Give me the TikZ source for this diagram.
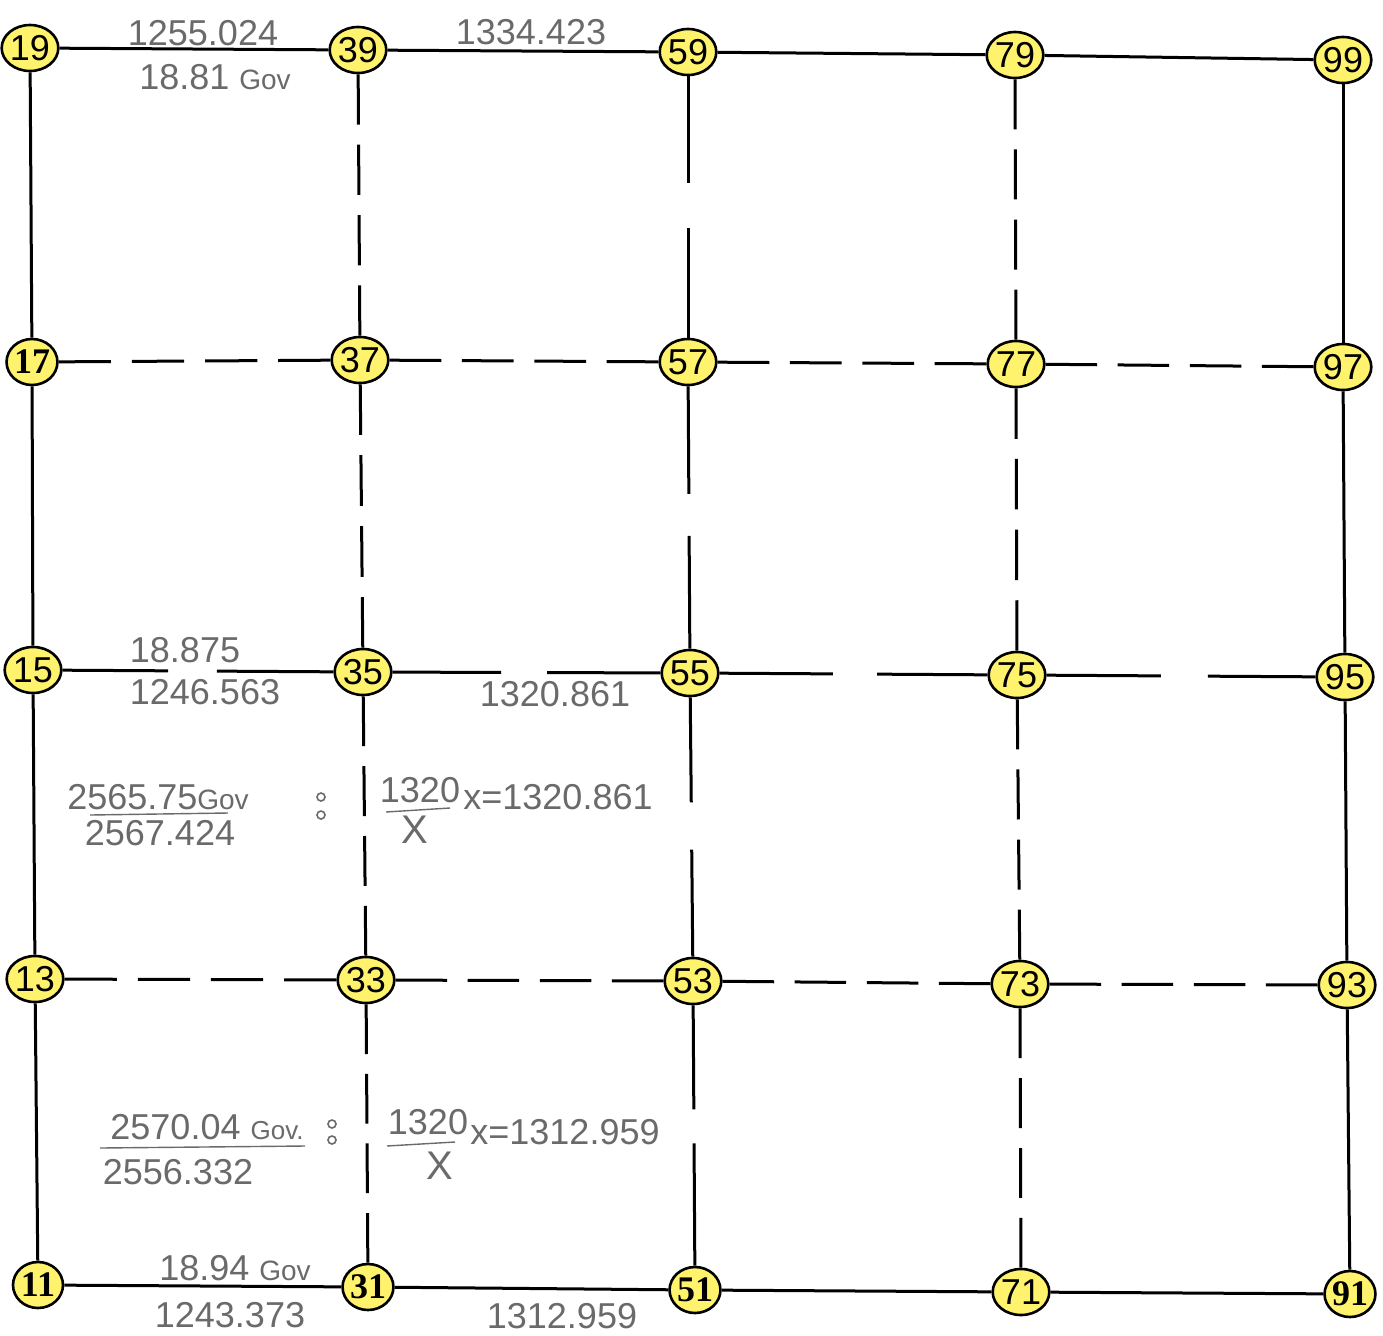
\documentclass[tikz,border=0pt]{standalone}
\usepackage{fontspec}
\setmainfont{Liberation Sans}
\newfontfamily\serifnum{Liberation Serif}
\usetikzlibrary{shapes.geometric,calc}
\definecolor{nodeyellow}{HTML}{FFF36E}
\definecolor{pencil}{HTML}{6A6A6A}
\tikzset{
  pt/.style={ellipse, draw=black, line width=1.3pt, fill=nodeyellow,
    minimum width=25pt, minimum height=23pt, inner sep=0pt,
    font=\fontsize{18}{18}\selectfont},
  pts/.style={pt, font=\fontsize{18}{18}\selectfont\bfseries\serifnum},
  solidline/.style={line width=1.5pt, draw=black, line cap=butt},
  hand/.style={text=pencil, font=\fontsize{18}{18}\selectfont, inner sep=0pt},
  handline/.style={draw=pencil, line width=0.7pt},
}
\newcommand\fourdash[2]{%
  \path (#1) -- (#2) coordinate[pos=0] (ds) coordinate[pos=1] (de);
  \foreach \a/\b in {0/0.1923,0.2692/0.4615,0.5385/0.7308,0.8077/1}
    {\draw[solidline] ($(ds)!\a!(de)$) -- ($(ds)!\b!(de)$);}
}
\newcommand\gapline[4]{%
  \path (#1) -- (#2) coordinate[pos=0] (ds) coordinate[pos=1] (de);
  \draw[solidline] (ds) -- ($(ds)!#3!(de)$);
  \draw[solidline] ($(ds)!#4!(de)$) -- (de);
}
\begin{document}
\begin{tikzpicture}[x=0.5pt,y=-0.5pt]
\fill[white] (0,0) rectangle (1383,1335);
\useasboundingbox (0,0) rectangle (1383,1335);

% nodes
\node[pt]  (n19) at (30,48) {19};
\node[pt]  (n39) at (358,50) {39};
\node[pt]  (n59) at (688,52) {59};
\node[pt]  (n79) at (1015,55) {79};
\node[pt]  (n99) at (1343,60) {99};
\node[pts] (n17) at (32,362) {17};
\node[pt]  (n37) at (360,360) {37};
\node[pt]  (n57) at (688,362) {57};
\node[pt]  (n77) at (1016,364) {77};
\node[pt]  (n97) at (1343,367) {97};
\node[pt]  (n15) at (33,670) {15};
\node[pt]  (n35) at (363,672) {35};
\node[pt]  (n55) at (690,673) {55};
\node[pt]  (n75) at (1017,675) {75};
\node[pt]  (n95) at (1345,677) {95};
\node[pt]  (n13) at (35,979) {13};
\node[pt]  (n33) at (366,980) {33};
\node[pt]  (n53) at (693,981) {53};
\node[pt]  (n73) at (1020,984) {73};
\node[pt]  (n93) at (1347,985) {93};
\node[pts] (n11) at (38,1285) {11};
\node[pts] (n31) at (368,1287) {31};
\node[pts] (n51) at (695,1290) {51};
\node[pt]  (n71) at (1021,1292) {71};
\node[pts] (n91) at (1350,1294) {91};

% solid outer lines
\draw[solidline] (n19) -- (n39);
\draw[solidline] (n39) -- (n59);
\draw[solidline] (n59) -- (n79);
\draw[solidline] (n79) -- (n99);
\draw[solidline] (n11) -- (n31);
\draw[solidline] (n31) -- (n51);
\draw[solidline] (n51) -- (n71);
\draw[solidline] (n71) -- (n91);
\draw[solidline] (n19) -- (n17);
\draw[solidline] (n17) -- (n15);
\draw[solidline] (n15) -- (n13);
\draw[solidline] (n13) -- (n11);
\draw[solidline] (n99) -- (n97);
\draw[solidline] (n97) -- (n95);
\draw[solidline] (n95) -- (n93);
\draw[solidline] (n93) -- (n91);

% dashed rows
\fourdash{n17}{n37}\fourdash{n37}{n57}\fourdash{n57}{n77}\fourdash{n77}{n97}
\fourdash{n13}{n33}\fourdash{n33}{n53}\fourdash{n53}{n73}\fourdash{n73}{n93}
% dashed columns
\fourdash{n39}{n37}\fourdash{n37}{n35}\fourdash{n35}{n33}\fourdash{n33}{n31}
\fourdash{n79}{n77}\fourdash{n77}{n75}\fourdash{n75}{n73}\fourdash{n73}{n71}

% lines with one gap
\gapline{n15}{n35}{0.39}{0.57}
\gapline{n35}{n55}{0.405}{0.577}
\gapline{n55}{n75}{0.423}{0.588}
\gapline{n75}{n95}{0.425}{0.60}
\gapline{n59}{n57}{0.41}{0.58}
\gapline{n57}{n55}{0.41}{0.57}
\gapline{n55}{n53}{0.405}{0.587}
\gapline{n53}{n51}{0.40}{0.53}

% handwritten labels
\node[hand] (l1) at (203,33) {1255.024};
\node[hand] (l2) at (215,77) {18.81 {\fontsize{14}{14}\selectfont Gov}};
\node[hand] (l3) at (531,32) {1334.423};
\node[hand] (l4) at (185,650) {18.875};
\node[hand] (l5) at (205,692) {1246.563};
\node[hand] (l6) at (555,694) {1320.861};

\node[hand] (f1t) at (158,797) {2565.75{\fontsize{14}{14}\selectfont Gov}};
\draw[handline] (90,815) -- (228,813);
\node[hand] (f1b) at (160,833) {2567.424};
\draw[pencil, line width=0.8pt] (321,797) circle (4) (321,815) circle (4);
\node[hand] (f2t) at (420,790) {1320};
\draw[handline] (386,812) -- (450,808);
\node[hand, font=\fontsize{20}{20}\selectfont] (f2b) at (415,830) {X};
\node[hand] (f2r) at (558,797) {x=1320.861};

\node[hand] (g1t) at (207,1127) {2570.04 {\fontsize{13}{13}\selectfont Gov.}};
\draw[handline] (100,1148) -- (305,1146);
\node[hand] (g1b) at (178,1172) {2556.332};
\draw[pencil, line width=0.8pt] (332,1124) circle (4) (332,1140) circle (4);
\node[hand] (g2t) at (428,1122) {1320};
\draw[handline] (387,1146) -- (455,1142);
\node[hand, font=\fontsize{20}{20}\selectfont] (g2b) at (440,1166) {X};
\node[hand] (g2r) at (565,1132) {x=1312.959};

\node[hand] (l7) at (235,1268) {18.94 {\fontsize{14}{14}\selectfont Gov}};
\node[hand] (l8) at (230,1315) {1243.373};
\node[hand] (l9) at (562,1316) {1312.959};
\end{tikzpicture}
\end{document}
